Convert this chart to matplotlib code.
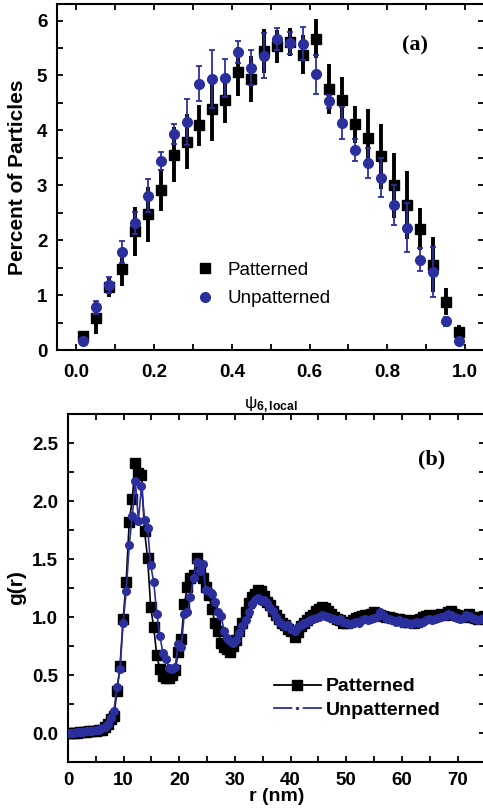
### Libraries ###
import numpy as np
import matplotlib
matplotlib.use('Agg')
import matplotlib.pyplot as plt
from matplotlib.lines import Line2D
from matplotlib.ticker import MultipleLocator

plt.rcParams['font.family'] = ['Liberation Sans', 'DejaVu Sans']
plt.rcParams['mathtext.fontset'] = 'custom'
plt.rcParams['mathtext.rm'] = 'Liberation Sans'
plt.rcParams['mathtext.bf'] = 'Liberation Sans:bold'
plt.rcParams['mathtext.it'] = 'Liberation Sans:italic'

### Data: panel (a), psi6 local histogram (30 bins) ###
psi6 = [0.0167, 0.05, 0.0833, 0.1167, 0.15, 0.1833, 0.2167, 0.25, 0.2833, 0.3167,
        0.35, 0.3833, 0.4167, 0.45, 0.4833, 0.5167, 0.55, 0.5833, 0.6167, 0.65,
        0.6833, 0.7167, 0.75, 0.7833, 0.8167, 0.85, 0.8833, 0.9167, 0.95, 0.9833]
pat_pct = [0.26, 0.59, 1.14, 1.48, 2.16, 2.47, 2.91, 3.56, 3.79, 4.09,
           4.39, 4.55, 5.07, 4.94, 5.45, 5.53, 5.61, 5.38, 5.67, 4.75,
           4.55, 4.11, 3.87, 3.53, 3.00, 2.64, 2.21, 1.55, 0.88, 0.33]
pat_err = [0.08, 0.30, 0.18, 0.32, 0.45, 0.50, 0.38, 0.50, 0.50, 0.37,
           0.58, 0.42, 0.44, 0.42, 0.40, 0.30, 0.25, 0.35, 0.35, 0.45,
           0.42, 0.34, 0.52, 0.59, 0.59, 0.62, 0.38, 0.50, 0.25, 0.12]
unp_pct = [0.16, 0.78, 1.18, 1.78, 2.32, 2.81, 3.44, 3.94, 4.16, 4.85,
           4.94, 4.95, 5.43, 5.14, 5.36, 5.67, 5.59, 5.58, 5.02, 4.53,
           4.13, 3.64, 3.41, 3.14, 2.64, 2.23, 1.64, 1.42, 0.52, 0.17]
unp_err = [0.04, 0.12, 0.15, 0.20, 0.20, 0.30, 0.17, 0.18, 0.42, 0.32,
           0.53, 0.35, 0.20, 0.32, 0.41, 0.20, 0.20, 0.30, 0.36, 0.12,
           0.29, 0.20, 0.27, 0.36, 0.36, 0.45, 0.21, 0.45, 0.08, 0.05]

### Data: panel (b), g(r) ###
r_nm = np.round(np.arange(0, 75, 0.55), 2)   # 137 sample radii
g_pat = [0.00, 0.00, 0.00, 0.00, 0.01, 0.01, 0.01, 0.02, 0.02, 0.02,
         0.03, 0.03, 0.05, 0.08, 0.12, 0.15, 0.36, 0.58, 0.98, 1.30,
         1.82, 2.02, 2.33, 2.24, 2.22, 1.74, 1.51, 1.09, 0.91, 0.67,
         0.55, 0.49, 0.47, 0.47, 0.50, 0.54, 0.70, 0.81, 1.11, 1.26,
         1.34, 1.36, 1.51, 1.41, 1.34, 1.26, 1.19, 1.07, 0.95, 0.88,
         0.78, 0.74, 0.72, 0.70, 0.75, 0.80, 0.88, 0.95, 1.04, 1.12,
         1.17, 1.20, 1.23, 1.22, 1.18, 1.13, 1.10, 1.05, 1.02, 0.98,
         0.95, 0.93, 0.90, 0.88, 0.83, 0.87, 0.92, 0.95, 0.97, 1.00,
         1.02, 1.05, 1.07, 1.09, 1.08, 1.05, 1.03, 1.00, 0.98, 0.97,
         0.95, 0.95, 0.96, 0.97, 0.99, 1.00, 1.01, 1.02, 1.02, 1.03,
         1.04, 1.03, 1.02, 1.01, 1.00, 1.00, 0.99, 0.98, 0.98, 0.97,
         0.96, 0.96, 0.97, 0.95, 0.96, 0.98, 1.00, 1.01, 1.02, 1.00,
         1.01, 1.02, 1.03, 1.02, 1.04, 1.05, 1.03, 1.02, 1.01, 1.00,
         1.01, 1.03, 1.00, 0.99, 0.98, 1.00, 1.01]
g_unp = [0.00, 0.00, 0.00, 0.01, 0.01, 0.01, 0.02, 0.02, 0.02, 0.03,
         0.03, 0.04, 0.05, 0.08, 0.13, 0.19, 0.40, 0.55, 0.95, 1.22,
         1.62, 1.87, 2.17, 1.83, 2.13, 1.84, 1.77, 1.45, 1.30, 1.03,
         0.84, 0.69, 0.64, 0.56, 0.55, 0.57, 0.77, 0.74, 1.03, 1.04,
         1.17, 1.34, 1.47, 1.40, 1.46, 1.23, 1.22, 1.20, 1.13, 1.04,
         1.01, 0.88, 0.82, 0.79, 0.78, 0.80, 0.86, 0.92, 0.97, 1.04,
         1.11, 1.15, 1.16, 1.14, 1.15, 1.12, 1.08, 1.05, 1.00, 0.96,
         0.94, 0.92, 0.93, 0.90, 0.88, 0.91, 0.93, 0.95, 0.96, 0.97,
         0.98, 0.99, 1.00, 1.02, 1.01, 1.00, 0.99, 0.98, 0.97, 0.98,
         0.96, 0.95, 0.94, 0.95, 0.96, 0.95, 0.97, 0.98, 0.97, 0.98,
         0.99, 1.00, 1.04, 1.02, 0.99, 0.98, 0.97, 0.96, 0.97, 0.95,
         0.96, 0.95, 0.94, 0.95, 0.96, 0.95, 0.96, 0.97, 0.98, 0.97,
         0.98, 0.99, 1.00, 1.01, 1.03, 1.02, 1.00, 0.99, 0.98, 0.99,
         1.02, 1.01, 0.99, 0.98, 0.97, 0.98, 0.99]

BLUE = '#2B2F9E'

### Figure ###
fig = plt.figure(figsize=(4.83, 8.11), dpi=100)
ax1 = fig.add_axes([0.118, 0.5684, 0.885, 0.4266])
ax2 = fig.add_axes([0.1408, 0.0604, 0.8642, 0.4291])

def style_axes(ax, xpad):
    for sp in ax.spines.values():
        sp.set_linewidth(1.5)
    ax.tick_params(which='both', direction='in', top=True, right=True, width=1.3,
                   labelsize=13.5, pad=7)
    ax.tick_params(axis='x', which='both', pad=xpad)
    ax.tick_params(which='major', length=4.5)
    ax.tick_params(which='minor', length=4)
    for lab in ax.get_xticklabels() + ax.get_yticklabels():
        lab.set_fontweight('bold')

### Panel (a) ###
ax1.errorbar(psi6, pat_pct, yerr=pat_err, fmt='s', color='black', ms=7,
             elinewidth=2.8, capsize=0, zorder=2)
ax1.errorbar(psi6, unp_pct, yerr=unp_err, fmt='o', color=BLUE, ms=7,
             elinewidth=1.3, capsize=2, capthick=1.3, zorder=3)
ax1.set_xlim(-0.05, 1.05)
ax1.set_ylim(0, 6.3)
ax1.xaxis.set_major_locator(MultipleLocator(0.2))
ax1.xaxis.set_minor_locator(MultipleLocator(0.1))
ax1.yaxis.set_major_locator(MultipleLocator(1))
ax1.yaxis.set_minor_locator(MultipleLocator(0.5))
ax1.xaxis.set_major_formatter(plt.FormatStrFormatter('%.1f'))
style_axes(ax1, 10)
ax1.set_xlabel('ψ$_{\\mathbf{6,local}}$', fontsize=12.5)
ax1.xaxis.set_label_coords(0.5, -0.128)
ax1.set_ylabel('Percent of Particles', fontsize=15, fontweight='bold')
ax1.yaxis.set_label_coords(-0.07, 0.5)
h1 = [Line2D([], [], ls='none', marker='s', color='black', ms=7),
      Line2D([], [], ls='none', marker='o', color=BLUE, ms=7)]
ax1.legend(h1, ['Patterned', 'Unpatterned'], loc='center left',
           bbox_to_anchor=(0.405, 0.649), bbox_transform=fig.transFigure,
           frameon=False, fontsize=13.5, handlelength=1.0, handletextpad=0.7,
           labelspacing=0.6, borderpad=0, borderaxespad=0)
fig.text(0.859, 0.9445, '(a)', fontsize=16, fontweight='bold',
         family='Liberation Serif', ha='center', va='center')

### Panel (b) ###
ax2.plot(r_nm, g_pat, '-s', color='black', ms=7.5, lw=1.2, zorder=2)
ax2.plot(r_nm, g_unp, '-o', color=BLUE, ms=5.5, lw=1.2, zorder=3)
ax2.set_xlim(0, 75)
ax2.set_ylim(-0.25, 2.75)
ax2.xaxis.set_major_locator(MultipleLocator(10))
ax2.xaxis.set_minor_locator(MultipleLocator(5))
ax2.yaxis.set_major_locator(MultipleLocator(0.5))
ax2.yaxis.set_minor_locator(MultipleLocator(0.25))
ax2.yaxis.set_major_formatter(plt.FormatStrFormatter('%.1f'))
style_axes(ax2, 7)
ax2.set_xlabel('r (nm)', fontsize=14, fontweight='bold')
ax2.xaxis.set_label_coords(0.5, -0.075)
ax2.set_ylabel('g(r)', fontsize=15, fontweight='bold')
ax2.yaxis.set_label_coords(-0.1, 0.5)
h2 = [Line2D([], [], ls='-', marker='s', color='black', ms=7, lw=1.3),
      Line2D([], [], ls='-', marker='o', color=BLUE, ms=5, lw=1.3,
             mec='white', mew=2.5)]
ax2.legend(h2, ['Patterned', 'Unpatterned'], loc='center left',
           bbox_to_anchor=(0.567, 0.139), bbox_transform=fig.transFigure,
           frameon=False, prop={'size': 14, 'weight': 'bold'},
           handlelength=2.4, handletextpad=0.25, labelspacing=0.3,
           borderpad=0, borderaxespad=0)
fig.text(0.894, 0.433, '(b)', fontsize=16, fontweight='bold',
         family='Liberation Serif', ha='center', va='center')

plt.savefig('out.png', dpi=100)
